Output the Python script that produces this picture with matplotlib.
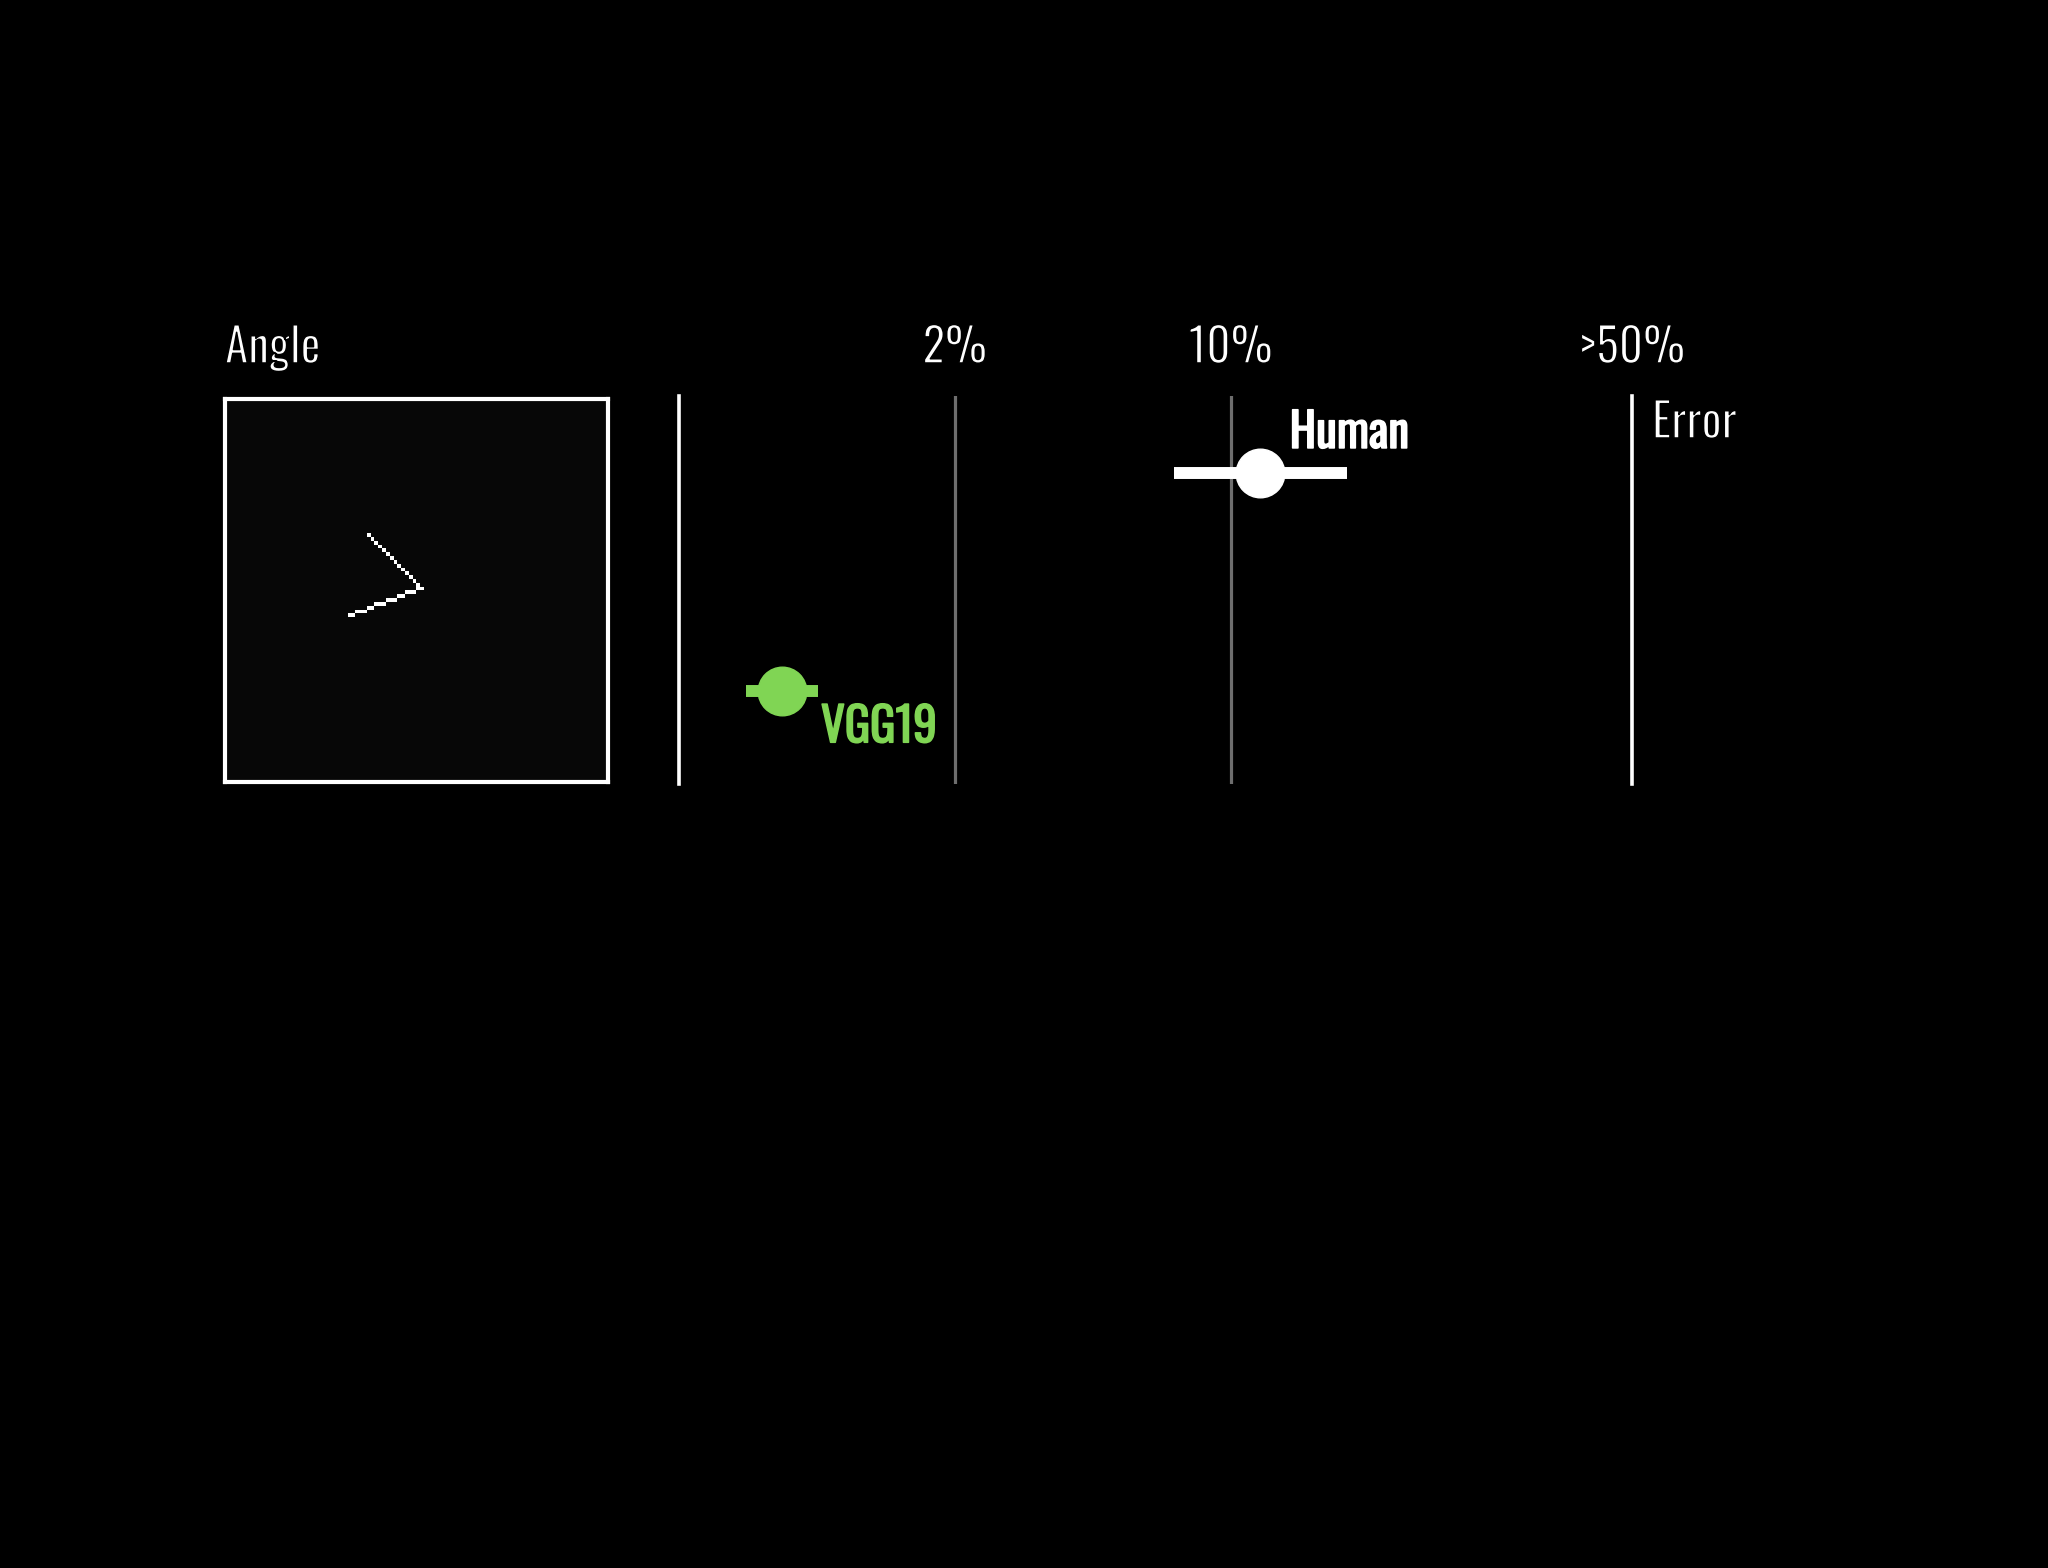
import numpy as np
import matplotlib
matplotlib.use("Agg")
import matplotlib.pyplot as plt
import matplotlib.patheffects as pe

# ---- data ----
models = ["Human", "VGG19"]
error_mid = [11.9, 0.73]       # percent
error_lo = [7.2, 0.59]
error_hi = [19.7, 0.90]
model_colors = ["#ffffff", "#80d554"]
tick_values = [2, 10]
tick_labels = ["2%", "10%"]
end_label = ">50%"
task_title = "Angle"
axis_title = "Error"
# angle stimulus on a 100x100 pixel grid: arm end, vertex, arm end (col, row)
stim_size = 100
stim_arm1 = (37, 35)
stim_vertex = (51, 49)
stim_arm2 = (32, 56)

plt.rcParams["font.family"] = ["Oswald", "Barlow Condensed", "DejaVu Sans"]
FS = 34
light = [pe.Normal(), pe.Stroke(linewidth=1.1, foreground="black")]
def bold(c):
    return [pe.Stroke(linewidth=1.1, foreground=c), pe.Normal()]

W, H = 2048, 1568
fig = plt.figure(figsize=(W / 100, H / 100), dpi=100, facecolor="black")

# ---- stimulus image ----
img = np.full((stim_size, stim_size), 0.03)
def draw_line(a, b):
    n = int(max(abs(b[0] - a[0]), abs(b[1] - a[1]))) + 1
    cols = np.rint(np.linspace(a[0], b[0], n)).astype(int)
    rows = np.rint(np.linspace(a[1], b[1], n)).astype(int)
    img[rows, cols] = 1.0
draw_line(stim_arm1, stim_vertex)
draw_line(stim_vertex, stim_arm2)

axi = fig.add_axes([225 / W, 1 - 782 / H, 383 / W, 383 / H])
axi.imshow(img, cmap="gray", vmin=0, vmax=1, interpolation="nearest", aspect="auto")
axi.set_xticks([]); axi.set_yticks([])
for s in axi.spines.values():
    s.set_color("white"); s.set_linewidth(3)
axi.text(0, 1 + 36 / 383, task_title, transform=axi.transAxes, color="white",
         fontsize=FS, va="baseline", ha="left", path_effects=light)

# ---- error chart ----
ax = fig.add_axes([679 / W, 1 - 784 / H, (1632 - 679) / W, 388 / H])
ax.set_facecolor("black")
ax.set_xscale("log")
ax.set_xlim(0.4, 104)
ax.set_ylim(1.427, -0.353)
for k in ["top", "bottom"]:
    ax.spines[k].set_visible(False)
for k in ["left", "right"]:
    ax.spines[k].set_color("white"); ax.spines[k].set_linewidth(2.6)
ax.set_xticks([]); ax.set_yticks([])
ax.minorticks_off()
ax.tick_params(which="both", length=0, labelbottom=False, labelleft=False)

for v, lab in zip(tick_values, tick_labels):
    ax.axvline(v, color="#6e6e6e", lw=2.3, zorder=1)
    ax.text(v, 1 + 33 / 388, lab, transform=ax.get_xaxis_transform(), color="white",
            fontsize=FS, ha="center", va="baseline", path_effects=light)
ax.text(1.0, 1 + 33 / 388, end_label, transform=ax.transAxes, color="white",
        fontsize=FS, ha="center", va="baseline", path_effects=light)
ax.text(1 + 20 / 953, 1 - 42 / 388, axis_title, transform=ax.transAxes, color="white",
        fontsize=FS, ha="left", va="baseline", path_effects=light)

offsets = [(21, 18), (28, -37)]
for i, (m, c) in enumerate(zip(models, model_colors)):
    ax.errorbar([error_mid[i]], [i],
                xerr=[[error_mid[i] - error_lo[i]], [error_hi[i] - error_mid[i]]],
                fmt="o", color=c, ms=35, elinewidth=8.6, capsize=0, zorder=3)
    ax.annotate(m, (error_mid[i], i), xytext=offsets[i], textcoords="offset points",
                color=c, fontsize=FS, fontweight="bold",
                ha="left", va="baseline", path_effects=bold(c))

fig.savefig("out.png", dpi=100, facecolor="black")
